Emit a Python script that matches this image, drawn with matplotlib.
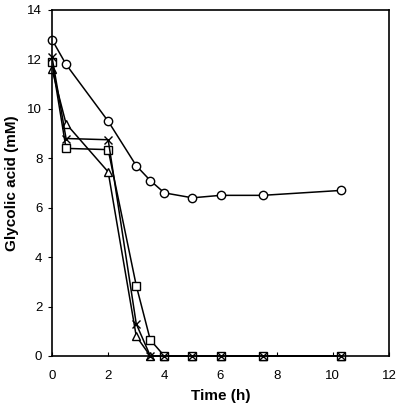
import matplotlib
matplotlib.use("Agg")
import matplotlib.pyplot as plt

plt.rcParams['font.family'] = ['Liberation Sans', 'DejaVu Sans']

time = [0, 0.5, 2, 3, 3.5, 4, 5, 6, 7.5, 10.3]
circles = [12.8, 11.8, 9.5, 7.7, 7.1, 6.6, 6.4, 6.5, 6.5, 6.7]
crosses = [12.1, 8.8, 8.75, 1.3, 0, 0, 0, 0, 0, 0]
squares = [11.9, 8.4, 8.35, 2.85, 0.65, 0, 0, 0, 0, 0]
triangles = [11.6, 9.4, 7.45, 0.8, 0, 0, 0, 0, 0, 0]

fig = plt.figure(figsize=(4, 4.08), dpi=100)
ax = fig.add_axes([0.13, 0.1275, 0.8425, 0.848])

style = dict(color='black', linewidth=1.1, markerfacecolor='white',
             markeredgecolor='black', markeredgewidth=1.0, clip_on=False)
ax.plot(time, triangles, marker='^', markersize=6, **style)
ax.plot(time, squares, marker='s', markersize=5.5, **style)
ax.plot(time, crosses, marker='x', markersize=6, **style)
ax.plot(time, circles, marker='o', markersize=6, **style)

ax.set_xlim(0, 12)
ax.set_ylim(0, 14)
ax.set_xticks(range(0, 13, 2))
ax.set_yticks(range(0, 15, 2))
ax.tick_params(axis='x', direction='in', length=3, width=0.8, labelsize=9.5, pad=10)
ax.tick_params(axis='y', direction='out', length=3, width=0.8, labelsize=9.5, pad=4)
for s in ax.spines.values():
    s.set_linewidth(1.2)

ax.set_xlabel('Time (h)', fontsize=11, fontweight='bold', labelpad=5)
ax.set_ylabel('Glycolic acid (mM)', fontsize=11, fontweight='bold', labelpad=6)

fig.savefig('out.png', dpi=100)
